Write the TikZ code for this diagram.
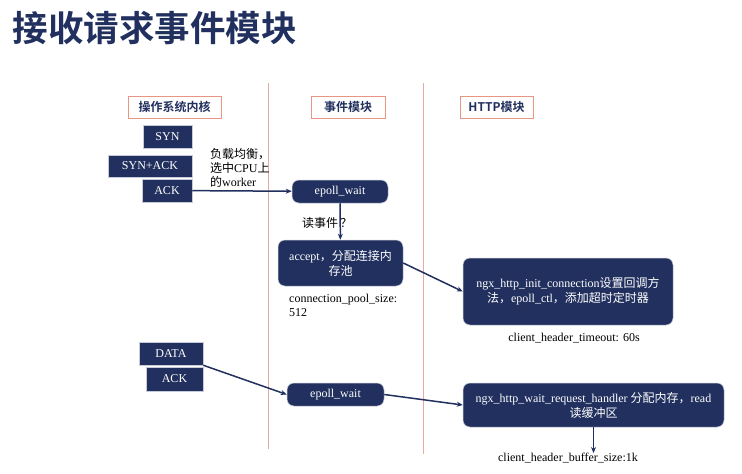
\documentclass[tikz,border=0pt]{standalone}
\usepackage{fontspec}
\setmainfont{Liberation Serif}
\newfontfamily\cjk{Noto Sans CJK SC}
\newfontfamily\cjkbf{Noto Sans CJK SC Bold}
\usepackage{tikz}
\usetikzlibrary{arrows.meta}
\definecolor{navy}{RGB}{33,48,94}
\definecolor{salmon}{RGB}{232,150,132}
\definecolor{lane}{RGB}{232,170,165}
\tikzstyle{arrow} = [draw=navy,line width=1.5pt,-{Stealth[length=6pt,width=5pt]}]

\begin{document}
\begin{tikzpicture}[x=1pt,y=-1pt,
	head node/.style={rectangle, draw=salmon, line width=0.9pt, minimum height=22pt, inner sep=0pt, text=navy, font=\cjkbf\fontsize{12}{14}\selectfont},
	pkt node/.style={rectangle, fill=navy, draw=white!75!navy, line width=0.5pt, minimum height=23pt, inner sep=0pt, text=white, font=\fontsize{12}{14}\selectfont},
	main node/.style={rectangle, rounded corners=7pt, fill=navy, draw=white!75!navy, line width=0.5pt, inner sep=0pt, align=center, text=white, font=\fontsize{12}{15}\selectfont},
	note/.style={inner sep=0pt, align=left, font=\fontsize{12}{14}\selectfont}]
	\useasboundingbox (0,0) rectangle (742,474);
	
	\node[anchor=west, text=navy, font=\cjkbf\fontsize{35.5}{38}\selectfont] (title) at (9,28) {接收请求事件模块};
	
	% lanes
	\draw[lane, line width=1pt] (268,83) -- (268,449);
	\draw[lane, line width=1pt] (423,83) -- (423,454);
	
	\node[head node, minimum width=93pt] (h1) at (174.5,107) {操作系统内核};
	\node[head node, minimum width=74pt] (h2) at (348,107) {事件模块};
	\node[head node, minimum width=73pt] (h3) at (496.5,107) {HTTP模块};
	
	\node[pkt node, minimum width=49pt] (1) at (167.5,136.5) {SYN};
	\node[pkt node, minimum width=84pt, minimum height=22pt] (2) at (150,166) {SYN+ACK};
	\node[pkt node, minimum width=50pt] (3) at (167,190.5) {ACK};
	
	\node[main node, minimum width=96pt, minimum height=23pt] (4) at (340,191.5) {epoll\_wait};
	\node[main node, minimum width=125pt, minimum height=46pt] (5) at (340.5,263) {accept{\cjk ，分配连接内}\\{\cjk 存池}};
	\node[main node, minimum width=210pt, minimum height=67pt] (6) at (568,291.5) {ngx\_http\_init\_connection{\cjk 设置回调方}\\{\cjk 法，}epoll\_ctl{\cjk ，添加超时定时器}};
	
	\node[pkt node, minimum width=64pt] (7) at (171,353.5) {DATA};
	\node[pkt node, minimum width=57pt, minimum height=24pt] (8) at (174.5,379) {ACK};
	
	\node[main node, minimum width=97pt, minimum height=23pt] (9) at (335.5,394.5) {epoll\_wait};
	\node[main node, minimum width=261pt, minimum height=44pt] (10) at (593.5,405) {ngx\_http\_wait\_request\_handler {\cjk 分配内存，}read\\{\cjk 读缓冲区}};
	
	% notes
	\node[note, anchor=north west] (n1) at (210,148) {{\cjk 负载均衡，}\\{\cjk 选中}CPU{\cjk 上}\\{\cjk 的}worker};
	\node[note, anchor=north west] (n2) at (289,294) {connection\_pool\_size:\\512};
	\node[note] (n3) at (574,338) {client\_header\_timeout: 60s};
	\node[note, anchor=north] (n4) at (568,453) {client\_header\_buffer\_size:1k};
	
	\draw[arrow] (3) -- (4);
	\draw[arrow] (4) -- node[pos=0.55, xshift=-13pt, black, inner sep=0pt, font=\cjk\fontsize{12}{14}\selectfont] {读事件\,？} (5);
	\draw[arrow] (5.east) -- (6.west);
	\draw[arrow] (7.south east) -- (9.west);
	\draw[arrow] (9.east) -- (10.west);
	\draw[arrow] (10.south) -- (10.south |- n4.north);
\end{tikzpicture}
\end{document}
